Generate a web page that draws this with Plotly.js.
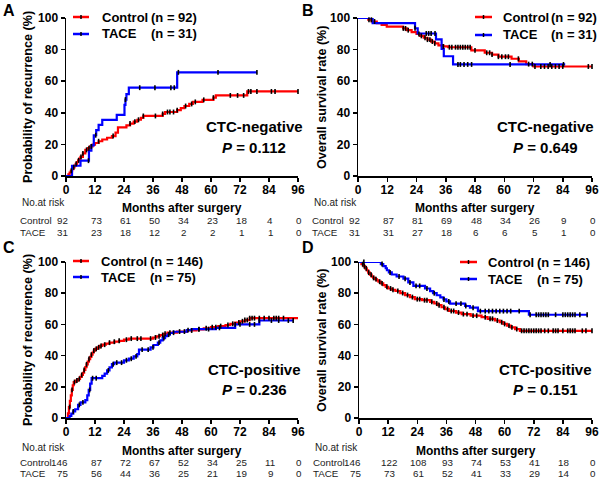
<!DOCTYPE html>
<html><head><meta charset="utf-8">
<script src="https://cdn.plot.ly/plotly-3.0.1.min.js"></script>
<style>html,body{margin:0;padding:0;background:#fff}#chart{width:600px;height:479px}</style>
</head><body><div id="chart"></div>
<script>
// ---------------- DATA ----------------
const monthTicks = [0, 12, 24, 36, 48, 60, 72, 84, 96];
const pctTicks = [0, 20, 40, 60, 80, 100];

// Panel A: recurrence, CTC-negative
const aCtrlT = [0,1,1.5,2,2.5,3,3.5,4,4.5,5,5.5,6,7,8,9,10,11,12,13.5,15,17,19,20.5,21.5,25,26.5,28,29.5,31,32,40,41,46,47.5,49,51,52.5,56.5,61,62,75,96];
const aCtrlV = [0,1.1,2.2,3.3,4.4,5.5,6.6,7.7,8.8,9.9,11,12.1,14.3,16.5,17.6,18.7,19.8,20.9,22,23.1,24.2,25.3,27.5,30.8,32,33.2,34.4,35.6,36.8,38,39.3,40.5,41.7,43,44.3,45.6,46.9,48.2,49.6,51,53.5,53.5];
const aCtrlCens = [2.2,3.2,4.2,5.2,6.2,7,8.5,9.5,10.5,13.5,19.5,26.5,28.5,30,32,37,40,42,43,44.5,46,49.5,52,53.5,57,61,68,71,73.5,75.5,76.5,79,85,86.5,96];
const aTaceT = [0,2.5,6,9.5,10.5,11.5,12.5,13.5,15,21,24.2,24.6,25,26,46,79];
const aTaceV = [0,6.5,9.7,16.1,19.4,25.8,29,32.3,35.5,38.7,45,48.4,51.8,55.9,65.6,65.6];
const aTaceCens = [9.3,12.3,24.6,30.5,36.8,43.4,44.8,46.5,62.9,79];

// Panel B: overall survival, CTC-negative
const bCtrlT = [0,4.2,5.6,7.7,9.7,11.8,18.5,20,22,24,25.5,27,28.5,30,31.5,33,35,37,46.5,52,55,57.6,63,66,69,72,96];
const bCtrlV = [100,98.9,97.8,96.7,95.6,94.5,93.4,92.3,91.1,89.9,88.7,87.5,86.3,85.1,83.9,82.7,82,81.5,79.5,78,76.8,75.5,74.2,72.5,70.8,69.3,69.3];
const bCtrlCens = [4.5,5.5,6.8,18.6,19.5,20.6,25,26,27.5,28.5,29.5,30.5,31.5,35,37.5,38.5,40,41,42,43,44,45,46,48,52.8,54,55,57.6,59,60.5,61.7,65.8,70,71.5,72.6,75,76.5,78,79.5,81,82.5,84,94.5,96];
const bTaceT = [0,6,23.4,24.5,32,34.3,35.2,39,85];
const bTaceV = [100,96.8,93.5,90.2,86.5,80.4,75.8,70.6,70.6];
const bTaceCens = [23.4,28,29,30,31.6,41,42,43.5,45,46.6,62.4,78.8,84.3];

// Panel C: recurrence, CTC-positive
const cCtrlT = [0,0.8,1.2,1.6,2,2.4,2.8,3.2,4,5,5.8,6.5,7,7.5,8,8.5,9,9.5,10,10.5,11,11.5,12,13,14,15,16.5,18,20,22,24,26,36,37.5,39,40.5,42,46,50,54,57,60,63,66,68,70,72,74,76,96];
const cCtrlV = [0,3,7,11,14.5,18,21,23,24,25,26.3,27.6,29,30.8,32.6,34.4,36.2,37.8,39.2,40.6,42,43.2,44.3,45.3,46.2,47,47.7,48.3,48.9,49.5,50.2,50.9,51.6,52.4,53.2,54,54.7,55.4,56.1,56.8,57.5,58.2,58.9,59.6,60.4,61.2,62,62.8,64,64];
const cCtrlCens = [1.5,2.5,3.5,4.5,5.5,6.5,7.5,8.5,9.5,10.5,11.5,12.5,13.5,14.5,16,18,20,22,25,27,29.5,31,35,37,38.5,40,41,43,44.5,47,49,52,55,58,60.5,62,64,67,69,71.5,73,74,75,76,77,78,80,82,84,86,87,88,90];
const cTaceT = [0,1.5,2.2,3,3.8,5,6,8,8.8,9.4,10,10.6,15,16,17,18,19,20,24,26,28,29.5,30.2,35,36.2,38,39,40,41,42,43,44.5,50,52,62,70,80,94];
const cTaceV = [0,1.4,2.8,4.2,5.6,8.4,10,11.5,14.5,18,22,25.5,27,28.5,30.5,32.5,34.5,35.5,37,38,39.5,41,43.8,45.3,46.8,48.3,49.8,51.2,52.5,53.5,54.5,55.3,56.3,57,57.8,60,62.5,62.5];
const cTaceCens = [3,5.5,7,9.8,11,12.5,17.5,19.5,21,23,25,27,29,31.5,34,36,38.5,40.5,42.5,50.5,55,59,63.5,70,72,76,78,80,85,88,92,94];

// Panel D: overall survival, CTC-positive
const dCtrlT = [0,1,1.8,2.5,3.2,3.8,4.5,5.2,5.9,6.6,7.3,8,9,10,11,12,13.5,15,17,19,21,23,26,29.3,31,32.5,34,35.5,37,40,42.3,46,50.5,53,56,58,59.5,61,62.5,64.3,66.3,96];
const dCtrlV = [100,98.6,97.3,95.9,94.6,93.2,91.9,90.6,89.8,89,88.2,87.4,86.3,85.2,84.1,83,82.2,81.4,80.1,78.8,77.5,76.2,75.5,74.5,73.4,72.3,71,69.8,68.6,67.6,66.6,65.6,64.6,63.6,62.5,61.4,60.3,59.2,58.1,57,55.9,55.9];
const dCtrlCens = [1.5,2.2,3,4,5,6,7,8.5,9.5,11.5,13,14,16,18,20,22,24,25,27,28,30,32,33,35,36.5,38,39,41,43,44.5,47,48.5,52,54,55,57,58.8,60,61.8,63,65,67,68,69,70,71,72,73,74,75,76.5,78,80,81,82,84,86,87,88,89,92,93.5,96];
const dTaceT = [0,9,10,11,11.5,12.3,13.5,15.5,18.3,20.3,22.4,27.2,29.3,30.5,32,33.5,34.8,36,37.5,43.7,45.7,49,70,94];
const dTaceV = [100,98.7,97.3,96,94.7,93.3,92,90.7,89.3,86.9,84.7,83,81.3,80,78.7,77.3,76,74.7,73.3,71.8,70.7,68.5,66.2,66.2];
const dTaceCens = [2,9.5,12.8,16.5,19,21,23.5,25,28,31,35,37,40,42,44,47,50,52,53.5,55,56.5,58,59.5,61,62.5,66,70.5,73,74,75,76,77,78,81,84,85,86,87,88,89,91,94];

// Numbers at risk
const riskACtrl = [92,73,61,50,34,23,18,4,0];
const riskATace = [31,23,18,12,2,2,1,1,0];
const riskBCtrl = [92,87,81,69,48,34,26,9,0];
const riskBTace = [31,31,27,18,6,6,5,1,0];
const riskCCtrl = [146,87,72,67,52,34,25,11,0];
const riskCTace = [75,56,44,36,25,21,19,9,0];
const riskDCtrl = [146,122,108,93,74,53,41,18,0];
const riskDTace = [75,73,61,52,41,33,29,14,0];

const panelLetters = ['A','B','C','D'];
const groupNames = ['Control','TACE'];
const nCtrl = [92,92,146,146];
const nTace = [31,31,75,75];
const subgroups = ['CTC-negative','CTC-negative','CTC-positive','CTC-positive'];
const pValues = ['0.112','0.649','0.236','0.151'];
const yTitles = ['Probability of recurrence (%)','Overall survival rate (%)','Probability of recurrence (%)','Overall survival rate (%)'];
const xTitle = 'Months after surgery';
const riskTitle = 'No.at risk';

// ---------------- LAYOUT (pixels) ----------------
const W = 600, H = 479;
const fx = p => p / W, fy = p => 1 - p / H;
const FONT = 'Arial, "Liberation Sans", Helvetica, sans-serif';
const RED = 'rgb(255,0,0)', BLUE = 'rgb(0,0,255)';

const geo = [
  {ax:[66,298], ay:[18,176], letter:[1,10], ytx:28, xty:208, nrx:20, nry:203, rows:[220,232], lgx:[73,89], lgy:[17,34], ltx:100, lnx:149, scx:254, sty:[126,147]},
  {ax:[358,592], ay:[18,176], letter:[300,10], ytx:322, xty:208, nrx:312, nry:203, rows:[220,232], lgx:[475,492], lgy:[17,35], ltx:501, lnx:549, scx:545, sty:[126,147]},
  {ax:[66,298], ay:[262,418], letter:[1,248], ytx:28, xty:451, nrx:20, nry:447, rows:[462,473], lgx:[73,89], lgy:[261,277], ltx:99, lnx:148, scx:254, sty:[369,389]},
  {ax:[359,592], ay:[262,418], letter:[300,248], ytx:322, xty:451, nrx:313, nry:447, rows:[462,473], lgx:[460,477], lgy:[262,279], ltx:486, lnx:535, scx:545, sty:[369,389]}
];

const curves = [
  [[aCtrlT,aCtrlV,aCtrlCens],[aTaceT,aTaceV,aTaceCens]],
  [[bCtrlT,bCtrlV,bCtrlCens],[bTaceT,bTaceV,bTaceCens]],
  [[cCtrlT,cCtrlV,cCtrlCens],[cTaceT,cTaceV,cTaceCens]],
  [[dCtrlT,dCtrlV,dCtrlCens],[dTaceT,dTaceV,dTaceCens]]
];
const risks = [[riskACtrl,riskATace],[riskBCtrl,riskBTace],[riskCCtrl,riskCTace],[riskDCtrl,riskDTace]];

function stepAt(t, v, x) {
  let val = v[0];
  for (let i = 0; i < t.length; i++) { if (t[i] <= x) val = v[i]; }
  return val;
}

const traces = [], annotations = [], shapes = [];
const layout = {
  width: W, height: H, margin: {l:0, r:0, t:0, b:0},
  paper_bgcolor: '#fff', plot_bgcolor: '#fff', showlegend: false,
  font: {family: FONT, color: '#000'}
};
const RISKFONT = {family: FONT, size: 9.8, color: '#222'};

geo.forEach((g, i) => {
  const k = i === 0 ? '' : String(i + 1);
  const xa = 'x' + k, ya = 'y' + k;
  layout['xaxis' + k] = {
    domain: [fx(g.ax[0]), fx(g.ax[1])], anchor: ya, range: [0, 96],
    tickvals: monthTicks, ticks: 'outside', ticklen: 4, tickwidth: 1.5, tickcolor: '#000',
    ticklabelstandoff: -2,
    showline: true, linewidth: 1.5, linecolor: '#000', showgrid: false, zeroline: false,
    tickfont: {family: FONT, size: 12, weight: 'bold', color: '#000'}, fixedrange: true
  };
  layout['yaxis' + k] = {
    domain: [fy(g.ay[1]), fy(g.ay[0])], anchor: xa, range: [0, 100],
    tickvals: pctTicks, ticks: 'outside', ticklen: 4, tickwidth: 1.5, tickcolor: '#000',
    showline: true, linewidth: 1.5, linecolor: '#000', showgrid: false, zeroline: false,
    tickfont: {family: FONT, size: 12, weight: 'bold', color: '#000'}, fixedrange: true
  };
  const colors = [RED, BLUE];
  curves[i].forEach((c, j) => {
    traces.push({type:'scatter', mode:'lines', x:c[0], y:c[1], xaxis:xa, yaxis:ya,
      line:{color:colors[j], width:2.2, shape:'hv'}, cliponaxis:false, hoverinfo:'skip'});
  });
  curves[i].forEach((c, j) => {
    traces.push({type:'scatter', mode:'markers', x:c[2], y:c[2].map(t => stepAt(c[0], c[1], t)),
      xaxis:xa, yaxis:ya, cliponaxis:false, hoverinfo:'skip',
      marker:{symbol:'line-ns', size:3.5, line:{width:1.6, color:'#000'}}});
  });

  annotations.push({xref:'paper', yref:'paper', x:fx(g.letter[0]), y:fy(g.letter[1]), xanchor:'left', yanchor:'middle',
    text:panelLetters[i], showarrow:false, font:{family:FONT, size:16, weight:'bold', color:'#000'}});
  annotations.push({xref:'paper', yref:'paper', x:fx(g.ytx), y:fy((g.ay[0]+g.ay[1])/2), xanchor:'center', yanchor:'middle',
    textangle:-90, text:yTitles[i], showarrow:false, font:{family:FONT, size:12.6, weight:'bold', color:'#000'}});
  annotations.push({xref:'paper', yref:'paper', x:fx((g.ax[0]+g.ax[1])/2), y:fy(g.xty), xanchor:'center', yanchor:'middle',
    text:xTitle, showarrow:false, font:{family:FONT, size:12, weight:'bold', color:'#000'}});
  annotations.push({xref:'paper', yref:'paper', x:fx(g.nrx), y:fy(g.nry), xanchor:'left', yanchor:'middle',
    text:riskTitle, showarrow:false, font:{family:FONT, size:10, color:'#222'}});
  risks[i].forEach((row, j) => {
    annotations.push({xref:'paper', yref:'paper', x:fx(g.nrx - 1), y:fy(g.rows[j]), xanchor:'left', yanchor:'middle',
      text:groupNames[j], showarrow:false, font:RISKFONT, borderpad:0});
    row.forEach((n, m) => {
      annotations.push({xref:xa, yref:'paper', x:monthTicks[m], y:fy(g.rows[j]),
        xanchor: m === 0 ? 'right' : 'center', xshift: m === 0 ? 3 : 1, yanchor:'middle',
        text:String(n), showarrow:false, font:RISKFONT, borderpad:0});
    });
  });
  const ln = [nCtrl[i], nTace[i]];
  [0,1].forEach(j => {
    const yy = g.lgy[j];
    shapes.push({type:'line', xref:'paper', yref:'paper', x0:fx(g.lgx[0]), x1:fx(g.lgx[1]), y0:fy(yy), y1:fy(yy),
      line:{color:colors[j], width:2.5}});
    const mx = (g.lgx[0]+g.lgx[1])/2;
    shapes.push({type:'line', xref:'paper', yref:'paper', x0:fx(mx), x1:fx(mx), y0:fy(yy-2), y1:fy(yy+2),
      line:{color:'#000', width:1.5}});
    annotations.push({xref:'paper', yref:'paper', x:fx(g.ltx), y:fy(yy), xanchor:'left', yanchor:'middle',
      text:groupNames[j], showarrow:false, font:{family:FONT, size:13, weight:'bold', color:'#000'}});
    annotations.push({xref:'paper', yref:'paper', x:fx(g.lnx), y:fy(yy), xanchor:'left', yanchor:'middle',
      text:'(n = ' + ln[j] + ')', showarrow:false, font:{family:FONT, size:13, weight:'bold', color:'#000'}});
  });
  annotations.push({xref:'paper', yref:'paper', x:fx(g.scx), y:fy(g.sty[0]), xanchor:'center', yanchor:'middle',
    text:subgroups[i], showarrow:false, font:{family:FONT, size:15, weight:'bold', color:'#000'}});
  annotations.push({xref:'paper', yref:'paper', x:fx(g.scx), y:fy(g.sty[1]), xanchor:'center', yanchor:'middle',
    text:'<i>P</i> = ' + pValues[i], showarrow:false, font:{family:FONT, size:15, weight:'bold', color:'#000'}});
});

layout.annotations = annotations;
layout.shapes = shapes;
Plotly.newPlot('chart', traces, layout, {staticPlot:true, displayModeBar:false});
</script>
</body></html>
